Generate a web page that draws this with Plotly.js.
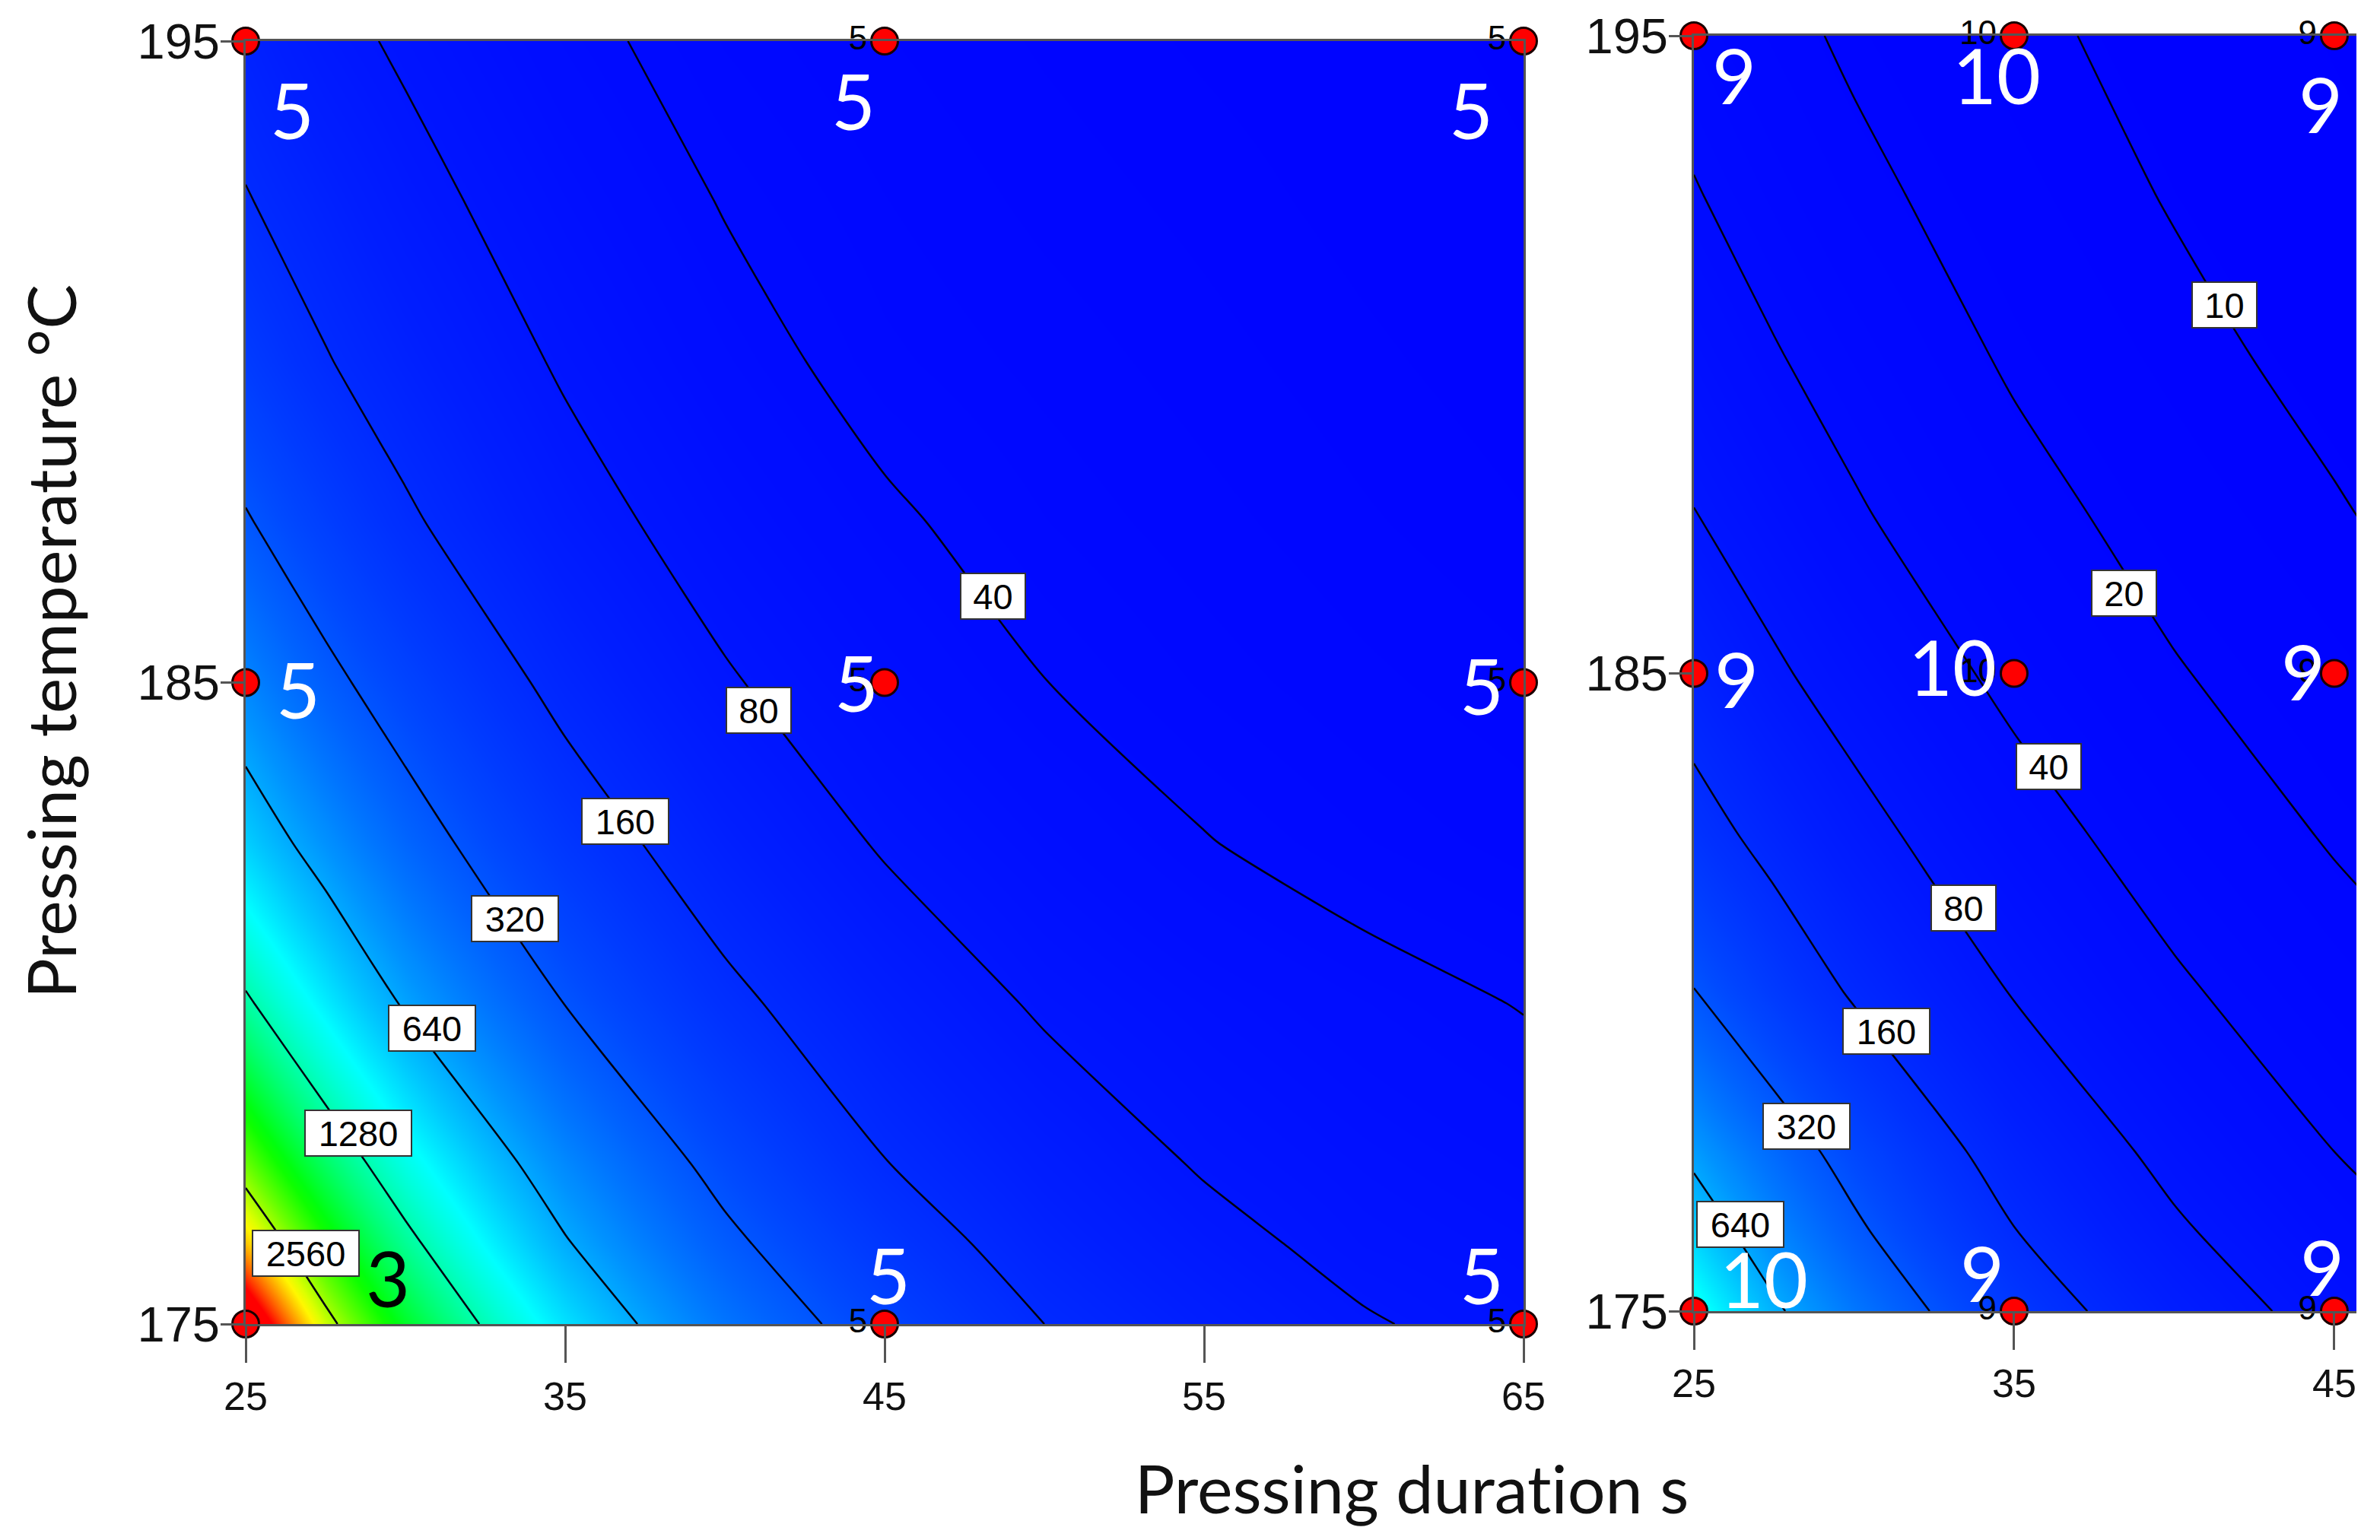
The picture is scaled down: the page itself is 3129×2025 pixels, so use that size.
<!DOCTYPE html>
<html>
<head>
<meta charset="utf-8">
<script src="https://cdn.plot.ly/plotly-3.0.1.min.js"></script>
<style>
html, body { margin: 0; padding: 0; background: #fff; }
#chart text {
    font-variant-ligatures: none !important;
    font-feature-settings: "liga" 0, "clig" 0 !important;
    text-rendering: optimizeSpeed !important;
}
</style>
</head>
<body>
<div id="chart" style="width:3129px;height:2025px;"></div>
<script>
// response surfaces. contours double each step so
// the tables hold log2(value / 10): 0 is the 10 line, 1 the 20 line, ...
const durationLeft = [25, 27.5, 30, 35, 40, 45, 50, 55, 60, 65];
const temperatureLeft = [175, 176.25, 177.5, 180, 182.5, 185, 187.5, 190, 192.5, 195];
const stepsLeft = [
    [8.85, 8.09, 7.49, 6.43, 5.48, 4.69, 4.00, 3.50, 3.06, 2.75],
    [8.30, 7.69, 7.11, 6.04, 5.13, 4.36, 3.70, 3.21, 2.79, 2.58],
    [7.87, 7.29, 6.73, 5.70, 4.81, 4.02, 3.44, 2.94, 2.62, 2.38],
    [7.06, 6.50, 5.95, 4.99, 4.16, 3.49, 2.91, 2.55, 2.25, 1.97],
    [6.30, 5.79, 5.28, 4.37, 3.60, 2.93, 2.46, 2.03, 1.70, 1.42],
    [5.67, 5.15, 4.69, 3.81, 3.07, 2.50, 2.01, 1.65, 1.35, 1.10],
    [5.05, 4.57, 4.10, 3.30, 2.65, 2.11, 1.69, 1.38, 1.08, 0.82],
    [4.50, 4.04, 3.65, 2.91, 2.27, 1.74, 1.44, 1.15, 0.87, 0.62],
    [4.04, 3.65, 3.25, 2.57, 1.96, 1.53, 1.20, 0.95, 0.68, 0.45],
    [3.66, 3.22, 2.89, 2.22, 1.66, 1.30, 1.00, 0.75, 0.55, 0.32]
];

const durationRight = [25, 27.5, 30, 35, 40, 45, 46];
const temperatureRight = [175, 176.25, 177.5, 180, 182.5, 185, 187.5, 190, 192.5, 195];
const stepsRight = [
    [6.74, 6.08, 5.51, 4.43, 3.49, 2.69, 2.55],
    [6.30, 5.69, 5.11, 4.02, 3.11, 2.34, 2.19],
    [5.89, 5.33, 4.76, 3.68, 2.78, 2.00, 1.87],
    [5.02, 4.47, 3.93, 2.96, 2.13, 1.44, 1.31],
    [4.27, 3.77, 3.26, 2.35, 1.58, 0.91, 0.80],
    [3.65, 3.11, 2.65, 1.79, 1.06, 0.50, 0.39],
    [3.02, 2.56, 2.09, 1.30, 0.65, 0.08, -0.04],
    [2.53, 2.05, 1.65, 0.88, 0.27, -0.30, -0.42],
    [2.05, 1.63, 1.22, 0.54, -0.07, -0.60, -0.70],
    [1.66, 1.24, 0.86, 0.23, -0.35, -0.85, -0.95]
];

// contour line labels
const lineLabelsLeft = ['40', '80', '160', '320', '640', '1280', '2560'];
const lineLabelXLeft = [48.4, 41.07, 36.88, 33.43, 30.83, 28.52, 26.88];
const lineLabelYLeft = [186.35, 184.57, 182.84, 181.32, 179.61, 177.98, 176.1];
const lineLabelsRight = ['10', '20', '40', '80', '160', '320', '640'];
const lineLabelXRight = [41.58, 38.44, 36.09, 33.43, 31.01, 28.52, 26.45];
const lineLabelYRight = [190.78, 186.26, 183.54, 181.32, 179.39, 177.9, 176.36];

// design points and the counts written at them
const pointXLeft = [25, 45, 65, 25, 45, 65, 25, 45, 65];
const pointYLeft = [195, 195, 195, 185, 185, 185, 175, 175, 175];
const countsLeft = ['5', '5', '5', '5', '5', '5', '3', '5', '5'];
const smallLeft = ['', '5', '5', '', '5', '5', '', '5', '5'];
const pointXRight = [25, 35, 45, 25, 35, 45, 25, 35, 45];
const pointYRight = [195, 195, 195, 185, 185, 185, 175, 175, 175];
const countsRight = ['9', '10', '9', '9', '10', '9', '10', '9', '9'];
const smallRight = ['', '10', '9', '', '10', '9', '', '9', '9'];

const xTicksLeft = [25, 35, 45, 55, 65];
const xTicksRight = [25, 35, 45];
const yTicks = [175, 185, 195];

const stepMin = -1;
const stepMax = 8.6;

// colours run linear in the value, the tables are in log2, so bend the scale
function rainbowScale() {
    const stops = [];
    const n = 120;
    const top = Math.pow(2, stepMax);
    for (let i = 0; i <= n; i++) {
        const k = stepMin + (stepMax - stepMin) * i / n;
        const t = Math.pow(2, k) / top;
        let r, g, b;
        if (t < 0.25) { r = 0; g = 4 * t; b = 1; }
        else if (t < 0.5) { r = 0; g = 1; b = 2 - 4 * t; }
        else if (t < 0.75) { r = 4 * t - 2; g = 1; b = 0; }
        else { r = 1; g = 4 - 4 * t; b = 0; }
        stops.push([i / n, 'rgb(' + Math.round(r * 255) + ',' + Math.round(g * 255) + ',' + Math.round(b * 255) + ')']);
    }
    return stops;
}

function panelTraces(x, y, z, startLine, endLine, px, py, small, xa, ya) {
    return [{
        type: 'heatmap', x: x, y: y, z: z, xaxis: xa, yaxis: ya,
        zmin: stepMin, zmax: stepMax, zsmooth: 'best',
        colorscale: rainbowScale(), showscale: false
    }, {
        type: 'contour', x: x, y: y, z: z, xaxis: xa, yaxis: ya,
        autocontour: false,
        contours: { coloring: 'none', start: startLine, end: endLine, size: 1 },
        line: { color: '#000010', width: 2.5, smoothing: 0.8 },
        showscale: false
    }, {
        type: 'scatter', mode: 'markers+text', x: px, y: py, xaxis: xa, yaxis: ya,
        text: small, textposition: 'middle left',
        textfont: { family: 'Liberation Sans', size: 44, color: '#000' },
        marker: { color: '#ff0000', size: 35, line: { color: '#1a0000', width: 3 } },
        cliponaxis: false, showlegend: false
    }];
}

// white boxes on the contour lines
function lineLabels(labels, xs, ys, xa, ya) {
    const widths = { 2: 81, 3: 110, 4: 136 };
    return labels.map((t, i) => ({
        text: t, x: xs[i], y: ys[i], xref: xa, yref: ya, showarrow: false,
        width: widths[t.length], height: 56, bgcolor: '#fff',
        bordercolor: '#333', borderwidth: 2, borderpad: 1,
        font: { family: 'Liberation Sans', size: 47, color: '#000' }
    }));
}

// big numbers next to the design points, offsets in pixels from the point
const offsetsLeft = [[61, -90], [-41, -78], [-69, -90], [69, -9], [-37, 0], [-55, -4], [187, 61], [5, 65], [-55, 65]];
const offsetsRight = [[53, -51], [-23, -51], [-18, -89], [56, -7], [-81, 9], [-41, 3], [92, 43], [-42, 51], [-16, 59]];

function countLabels(counts, xs, ys, offsets, xa, ya) {
    return counts.map((t, i) => ({
        text: t, x: xs[i], y: ys[i], xref: xa, yref: ya, showarrow: false,
        xshift: offsets[i][0], yshift: offsets[i][1],
        font: { family: 'Lato', size: 100, color: t === '3' ? '#000' : '#fff' }
    }));
}

function main() {
    const data = [].concat(
        panelTraces(durationLeft, temperatureLeft, stepsLeft, 2, 8, pointXLeft, pointYLeft, smallLeft, 'x', 'y'),
        panelTraces(durationRight, temperatureRight, stepsRight, 0, 6, pointXRight, pointYRight, smallRight, 'x2', 'y2')
    );

    const xAxisBase = {
        ticks: 'outside', ticklen: 48, tickwidth: 3, tickcolor: '#555',
        showline: true, linecolor: '#555', linewidth: 3,
        showgrid: false, zeroline: false,
        tickfont: { family: 'Liberation Sans', size: 52, color: '#111' }
    };
    const yAxisBase = {
        ticks: 'outside', ticklen: 30, tickwidth: 3, tickcolor: '#555',
        tickvals: yTicks, range: [175, 195],
        showline: true, linecolor: '#555', linewidth: 3,
        showgrid: false, zeroline: false, ticklabelstandoff: -12,
        tickfont: { family: 'Liberation Sans', size: 65, color: '#111' }
    };

    const layout = {
        width: 3129,
        height: 2025,
        margin: { l: 0, r: 0, t: 0, b: 0 },
        paper_bgcolor: '#fff',
        plot_bgcolor: '#fff',
        showlegend: false,
        xaxis: Object.assign({}, xAxisBase, {
            domain: [323 / 3129, 2003 / 3129], range: [25, 65],
            tickvals: xTicksLeft, anchor: 'y', mirror: true
        }),
        yaxis: Object.assign({}, yAxisBase, {
            domain: [284 / 2025, 1971 / 2025], anchor: 'x', mirror: true
        }),
        xaxis2: Object.assign({}, xAxisBase, {
            domain: [2227 / 3129, 3098 / 3129], range: [25, 45.69],
            tickvals: xTicksRight, anchor: 'y2', mirror: true
        }),
        yaxis2: Object.assign({}, yAxisBase, {
            domain: [301 / 2025, 1978 / 2025], anchor: 'x2'
        }),
        annotations: [].concat(
            lineLabels(lineLabelsLeft, lineLabelXLeft, lineLabelYLeft, 'x', 'y'),
            lineLabels(lineLabelsRight, lineLabelXRight, lineLabelYRight, 'x2', 'y2'),
            countLabels(countsLeft, pointXLeft, pointYLeft, offsetsLeft, 'x', 'y'),
            countLabels(countsRight, pointXRight, pointYRight, offsetsRight, 'x2', 'y2'),
            [{
                text: 'Pressing duration s', xref: 'paper', yref: 'paper',
                x: 1856 / 3129, y: 1 - 1956 / 2025, xanchor: 'center', yanchor: 'middle',
                showarrow: false,
                font: { family: 'Lato', size: 88, color: '#111' }
            }, {
                text: 'Pressing temperature °C', xref: 'paper', yref: 'paper',
                x: 66 / 3129, y: 1 - 844 / 2025, xanchor: 'center', yanchor: 'middle',
                textangle: -90, showarrow: false,
                font: { family: 'Lato', size: 88, color: '#111' }
            }]
        )
    };

    Plotly.newPlot('chart', data, layout, { displayModeBar: false, staticPlot: true });
}
main();
</script>
</body>
</html>
